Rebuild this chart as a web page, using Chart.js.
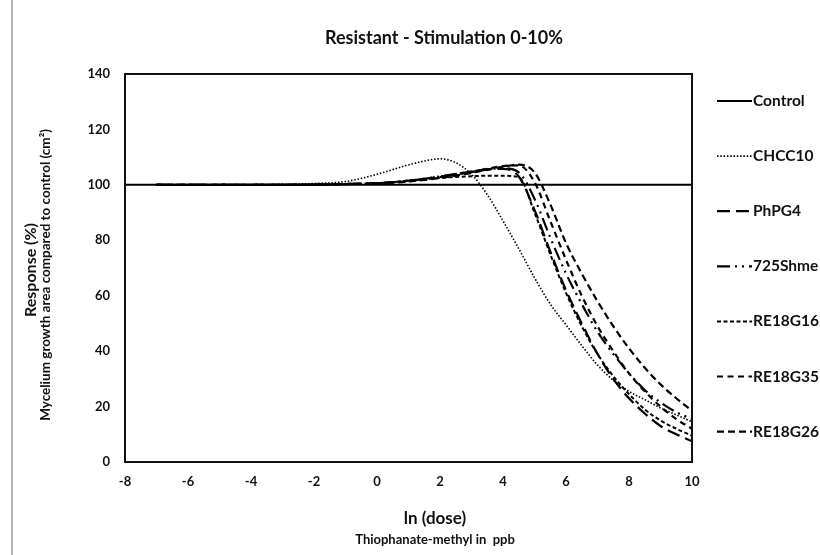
<!DOCTYPE html>
<html>
<head>
<meta charset="utf-8">
<script src="https://cdn.jsdelivr.net/npm/chart.js@4.4.0/dist/chart.umd.min.js"></script>
<style>
  html, body { margin: 0; padding: 0; background: #fff; }
  #wrap { position: relative; width: 820px; height: 555px; }
</style>
</head>
<body>
<div id="wrap"><canvas id="chart"></canvas></div>
<script>
// ---- data ----
const seriesNames = ["Control", "CHCC10", "PhPG4", "725Shme", "RE18G16", "RE18G35", "RE18G26"];

const controlX = [-8, 10];
const controlY = [100, 100];

const chccX = [-7, -6, -5, -4, -3, -2, -1, 0, 0.5, 1, 1.5, 2, 2.5, 3, 3.5, 4, 4.5, 5, 5.5, 6, 6.5, 7, 7.5, 8, 8.5, 9, 9.5, 10];
const chccY = [100, 100, 100, 100, 100.2, 100.5, 101.2, 103.8, 105.5, 107.2, 108.6, 109.4, 108, 103.8, 96.5, 87, 77, 66.5, 57, 49.5, 42, 35, 29.5, 25.5, 22.5, 19.5, 17, 14.5];

// common dose grid for the other isolates
const doseX = [-7, -6, -5, -4, -3, -2, -1, 0, 1, 2, 3, 3.5, 4, 4.5, 5, 5.5, 6, 6.5, 7, 7.5, 8, 8.5, 9, 9.5, 10];
const phpg4Y = [100, 100, 100, 100, 100, 100.1, 100.3, 100.6, 101.5, 103, 104.8, 105.5, 105.8, 103, 91, 76, 62, 50, 39, 30, 23, 17.5, 13, 10, 7.5];
const shmeY = [100, 100, 100, 100, 100, 100.1, 100.3, 100.6, 101.5, 103, 104.8, 105.6, 106, 104.5, 95, 81, 68, 57, 47, 39, 32, 26, 21.5, 18, 15.5];
const g16Y = [100, 100, 100, 100, 100, 100.1, 100.3, 100.6, 101.5, 102.5, 103.1, 103.3, 103.3, 102.8, 90, 75, 61, 49, 39, 31, 24.5, 19, 15, 12, 9.5];
const g35Y = [100, 100, 100, 100, 100, 100.1, 100.3, 100.5, 101.3, 102.8, 104.6, 105.8, 106.8, 107, 101, 87, 73, 60, 49, 40, 32, 25.5, 20, 15.5, 12];
const g26Y = [100, 100, 100, 100, 100, 100.1, 100.3, 100.5, 101.2, 102.5, 104.3, 105.5, 106.5, 107.3, 104.5, 93, 79, 68, 58, 49, 41, 34, 28, 23, 18.5];

const FONT = "Lato, 'Open Sans', sans-serif";

function pts(xs, ys) {
  return xs.map((x, i) => ({ x: x, y: ys[i] }));
}

const styles = [
  { dash: [], width: 2 },
  { dash: [1.5, 1.8], width: 1.6 },
  { dash: [13, 6], width: 2.2 },
  { dash: [13, 5, 2, 5, 2, 5], width: 2.2 },
  { dash: [4, 2.5], width: 2 },
  { dash: [6, 4.5], width: 2.2 },
  { dash: [7, 4], width: 2.2 },
];

const seriesData = [
  pts(controlX, controlY),
  pts(chccX, chccY),
  pts(doseX, phpg4Y),
  pts(doseX, shmeY),
  pts(doseX, g16Y),
  pts(doseX, g35Y),
  pts(doseX, g26Y),
];

const datasets = seriesNames.map((name, i) => ({
  label: name,
  data: seriesData[i],
  borderColor: "#000",
  backgroundColor: "#000",
  borderWidth: styles[i].width,
  borderDash: styles[i].dash,
  pointRadius: 0,
  fill: false,
  cubicInterpolationMode: "monotone",
}));

// frame, titles and legend drawn by hand
const decorPlugin = {
  id: "decor",
  beforeDraw(chart) {
    const ctx = chart.ctx;
    ctx.save();
    ctx.strokeStyle = "#9a9a9a";
    ctx.lineWidth = 1.5;
    ctx.beginPath();
    ctx.moveTo(12, 0);
    ctx.lineTo(12, 555);
    ctx.stroke();
    ctx.restore();
  },
  afterDraw(chart) {
    const ctx = chart.ctx;
    const a = chart.chartArea;
    ctx.save();
    // box round the plot
    ctx.strokeStyle = "#111";
    ctx.lineWidth = 2;
    ctx.strokeRect(a.left, a.top, a.right - a.left, a.bottom - a.top);

    ctx.fillStyle = "#111";
    ctx.textAlign = "center";
    ctx.textBaseline = "middle";
    ctx.font = "bold 18px " + FONT;
    ctx.fillText("Resistant - Stimulation 0-10%", 444, 38);

    ctx.font = "bold 17px " + FONT;
    ctx.fillText("ln (dose)", 435, 519);
    ctx.font = "bold 13px " + FONT;
    ctx.fillText("Thiophanate-methyl in  ppb", 435, 540);

    ctx.save();
    ctx.translate(31, 270);
    ctx.rotate(-Math.PI / 2);
    ctx.font = "bold 16px " + FONT;
    ctx.fillText("Response (%)", 0, 0);
    ctx.restore();

    ctx.save();
    ctx.translate(46, 275);
    ctx.rotate(-Math.PI / 2);
    ctx.font = "bold 13.5px " + FONT;
    ctx.fillText("Mycelium growth area compared to control (cm\u00B2)", 0, 0);
    ctx.restore();

    // legend
    chart.data.datasets.forEach((ds, i) => {
      const y = 101 + i * 55.1;
      ctx.beginPath();
      ctx.setLineDash(ds.borderDash);
      ctx.lineWidth = ds.borderWidth;
      ctx.strokeStyle = "#000";
      ctx.moveTo(717, y);
      ctx.lineTo(752, y);
      ctx.stroke();
      ctx.setLineDash([]);
      ctx.textAlign = "left";
      ctx.font = "bold 15.5px " + FONT;
      ctx.fillText(ds.label, 753, y);
    });
    ctx.restore();
  },
};

new Chart(document.getElementById("chart"), {
  type: "line",
  data: { datasets: datasets },
  options: {
    responsive: true,
    maintainAspectRatio: false,
    animation: false,
    layout: { padding: { left: 0, right: 128, top: 74, bottom: 0 } },
    plugins: {
      legend: { display: false },
      title: { display: false },
      tooltip: { enabled: false },
    },
    scales: {
      x: {
        type: "linear",
        min: -8,
        max: 10,
        ticks: {
          stepSize: 2,
          padding: 12,
          color: "#111",
          font: { family: FONT, size: 13, weight: "bold" },
        },
        grid: { display: false, drawTicks: false },
        border: { display: true, color: "#111", width: 2 },
        afterFit(scale) { scale.height = 93; },
      },
      y: {
        min: 0,
        max: 140,
        ticks: {
          stepSize: 20,
          padding: 15,
          color: "#111",
          font: { family: FONT, size: 13, weight: "bold" },
        },
        grid: { display: false, drawTicks: false },
        border: { display: true, color: "#111", width: 2 },
        afterFit(scale) { scale.width = 125; },
      },
    },
  },
  plugins: [decorPlugin],
});
</script>
</body>
</html>
